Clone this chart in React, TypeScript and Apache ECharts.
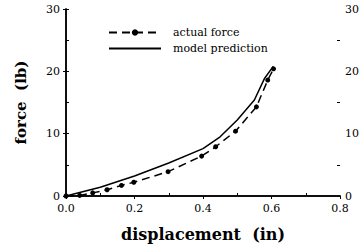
import React, { useEffect, useRef } from "react";
import * as echarts from "echarts";

const actualDisp = [0, 0.04, 0.078, 0.12, 0.162, 0.198, 0.298, 0.396, 0.437, 0.495, 0.556, 0.589, 0.606];
const actualForce = [0, 0.1, 0.5, 1.0, 1.7, 2.2, 3.9, 6.4, 7.9, 10.4, 14.3, 18.6, 20.4];
const modelDisp = [0, 0.1, 0.2, 0.3, 0.4, 0.45, 0.5, 0.55, 0.58, 0.605];
const modelForce = [0, 1.4, 3.2, 5.3, 7.6, 9.5, 12.2, 15.4, 18.9, 20.8];
const xMinorTicks = [0.1, 0.3, 0.5, 0.7];
const yMinorTicks = [5, 15, 25];
const seriesNames = ["actual force", "model prediction"];

const FONT = "'DejaVu Serif', serif";

export default function App() {
  const ref = useRef<HTMLDivElement>(null);
  useEffect(() => {
    if (!ref.current) return;
    const chart = echarts.init(ref.current, undefined, { renderer: "svg" });
    const line = { show: true, lineStyle: { color: "#000", width: 1.5 } };
    const labelStyle = { color: "#000", fontFamily: FONT, fontSize: 11 };
    chart.setOption({
      animation: false,
      backgroundColor: "#fff",
      grid: { left: 66, right: 19.5, top: 9, bottom: 51 },
      legend: {
        orient: "vertical",
        left: 103,
        top: 22,
        itemWidth: 52,
        itemHeight: 8,
        itemGap: 5,
        data: [
          { name: seriesNames[0] },
          { name: seriesNames[1], itemStyle: { opacity: 0 } },
        ],
        textStyle: { color: "#000", fontFamily: FONT, fontSize: 11, padding: [0, 0, 0, 7] },
      },
      xAxis: [
        {
          type: "value",
          min: 0,
          max: 0.8,
          interval: 0.2,
          position: "bottom",
          name: "displacement  (in)",
          nameLocation: "middle",
          nameGap: 30,
          nameTextStyle: { color: "#000", fontFamily: FONT, fontSize: 16, fontWeight: "bold" },
          axisLine: line,
          axisTick: { show: true, inside: false, length: 3, lineStyle: { color: "#000", width: 1 } },
          axisLabel: { ...labelStyle, margin: 7, formatter: (v: number) => v.toFixed(1) },
          splitLine: { show: false },
        },
        {
          type: "value",
          min: 0,
          max: 0.8,
          interval: 0.1,
          position: "bottom",
          axisLine: { show: false },
          axisTick: { show: true, inside: true, length: 3, customValues: xMinorTicks, lineStyle: { color: "#000", width: 1 } },
          axisLabel: { show: false },
          splitLine: { show: false },
        },
        {
          type: "value",
          min: 0,
          max: 0.8,
          position: "top",
          axisLine: line,
          axisTick: { show: false },
          axisLabel: { show: false },
          splitLine: { show: false },
        },
      ],
      yAxis: [
        {
          type: "value",
          min: 0,
          max: 30,
          interval: 10,
          position: "left",
          name: "force  (lb)",
          nameLocation: "middle",
          nameGap: 38,
          nameTextStyle: { color: "#000", fontFamily: FONT, fontSize: 15, fontWeight: "bold" },
          axisLine: line,
          axisTick: { show: true, inside: false, length: 3, lineStyle: { color: "#000", width: 1 } },
          axisLabel: { ...labelStyle, margin: 6 },
          splitLine: { show: false },
        },
        {
          type: "value",
          min: 0,
          max: 30,
          interval: 5,
          position: "left",
          axisLine: { show: false },
          axisTick: { show: true, inside: true, length: 3, customValues: yMinorTicks, lineStyle: { color: "#000", width: 1 } },
          axisLabel: { show: false },
          splitLine: { show: false },
        },
        {
          type: "value",
          min: 0,
          max: 30,
          interval: 10,
          position: "right",
          axisLine: line,
          axisTick: { show: true, inside: false, length: 3, lineStyle: { color: "#000", width: 1 } },
          axisLabel: { ...labelStyle, margin: 5 },
          splitLine: { show: false },
        },
        {
          type: "value",
          min: 0,
          max: 30,
          interval: 5,
          position: "right",
          axisLine: { show: false },
          axisTick: { show: true, inside: true, length: 3, customValues: yMinorTicks, lineStyle: { color: "#000", width: 1 } },
          axisLabel: { show: false },
          splitLine: { show: false },
        },
      ],
      series: [
        {
          name: seriesNames[0],
          type: "line",
          data: actualDisp.map((d, i) => [d, actualForce[i]]),
          symbol: "circle",
          symbolSize: 5,
          showSymbol: true,
          itemStyle: { color: "#000" },
          lineStyle: { color: "#000", width: 1.5, type: [8, 5] },
        },
        {
          name: seriesNames[1],
          type: "line",
          data: modelDisp.map((d, i) => [d, modelForce[i]]),
          symbol: "none",
          itemStyle: { color: "#000" },
          lineStyle: { color: "#000", width: 1.5 },
        },
      ],
    });
    return () => chart.dispose();
  }, []);
  return (
    <div
      ref={ref}
      style={{ position: "fixed", left: 0, top: 0, width: 362, height: 247, background: "#fff" }}
    />
  );
}
